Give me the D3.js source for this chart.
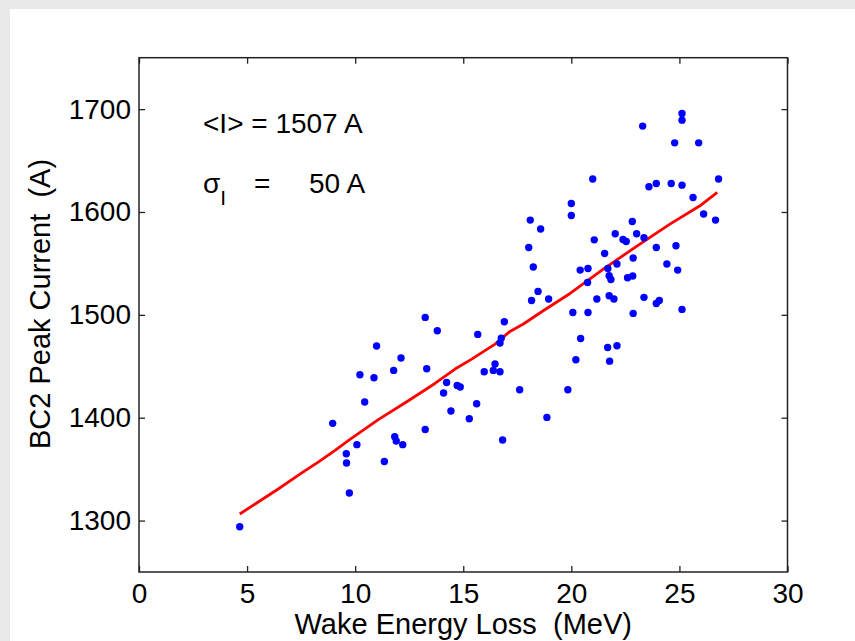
<!DOCTYPE html>
<html>
<head>
<meta charset="utf-8">
<script src="https://cdn.jsdelivr.net/npm/d3@7"></script>
<style>
  html, body { margin: 0; padding: 0; background: #e8e8e8; }
  svg { display: block; }
  text { font-family: "Liberation Sans", Arial, sans-serif; fill: #000; white-space: pre; }
</style>
</head>
<body>
<svg id="chart" width="855" height="641"></svg>
<script>
// ---- data ----
const energy = [4.66,13.24,13.8,15.67,10.99,12.12,11.78,13.31,10.22,10.87,14.23,14.72,14.86,14.09,10.44,15.62,14.43,15.28,8.96,13.24,11.83,11.9,12.2,10.08,9.59,9.6,11.35,9.73,
  16.9,16.76,16.7,20.43,21.68,22.11,20.21,21.77,16.47,16.39,16.7,15.97,17.61,19.84,18.87,16.82,
  25.12,25.12,23.3,24.78,25.89,20.99,26.81,23.59,23.93,24.62,25.12,25.63,20.0,20.0,26.12,26.67,18.1,18.58,22.82,18.03,22.03,23.02,22.39,22.54,21.06,23.36,23.93,24.84,21.54,22.86,18.24,22.11,24.42,24.92,20.41,20.77,21.69,21.75,21.83,20.75,22.6,22.84,18.46,18.16,18.95,21.18,21.75,21.97,23.36,23.93,24.07,25.12,20.07,20.77,22.86];
const current = [1294,1497.5,1484.5,1481,1469.7,1458,1446,1447.6,1441.8,1438.9,1434.3,1431.4,1429.8,1424,1415.3,1413.6,1406.5,1399,1394.5,1388.6,1381.5,1377.3,1373.8,1373.8,1365,1356,1357.5,1326.8,
  1493.3,1477.4,1472.6,1477,1468.3,1470,1456.4,1455,1452.2,1446,1444.7,1444.7,1427.2,1427.2,1400.3,1378.3,
  1695.7,1689.3,1683.5,1667.2,1667.2,1632,1632,1624.5,1627.7,1627.7,1626.1,1614.1,1608.3,1596.6,1598,1592.1,1592.1,1583.4,1590.8,1565.5,1578.8,1578.8,1573.3,1571.3,1572.9,1574.9,1565.5,1567.2,1559.7,1555.2,1546.5,1549.4,1549.4,1543.5,1543.5,1545.1,1545.1,1538,1534.4,1531.5,1536,1537.7,1522.8,1514,1515.4,1515.4,1518.6,1515.4,1517,1511.1,1514,1505.3,1502.3,1502.3,1501.4];
const fitEnergy  = [4.66,6.44,7.53,8.29,9.07,9.76,11.07,12.46,13.69,14.62,15.39,16.47,17.16,17.78,18.7,19.94,21.48,23.17,24.56,25.95,26.75];
const fitCurrent = [1306.4,1330.7,1346.3,1356.8,1368.2,1378.9,1398.1,1416.5,1433.3,1447.3,1457,1471.6,1483.9,1491.1,1504,1520.8,1544.5,1568.8,1588.2,1606,1619];
const xTicks = [0,5,10,15,20,25,30];
const yTicks = [1300,1400,1500,1600,1700];
const xLabel = "Wake Energy Loss  (MeV)";
const yLabel = "BC2 Peak Current  (A)";

// ---- drawing ----
const svg = d3.select("#chart");
svg.append("rect").attr("x",10).attr("y",9).attr("width",845).attr("height",632).attr("fill","#fff");

const L = 139, R = 787.5, T = 57.7, B = 572;
const x = d3.scaleLinear().domain([0,30]).range([L,R]);
const y = d3.scaleLinear().domain([1250,1750]).range([B,T]);
const FS = 28, LFS = 29;
const axisColor = "#222";

// axes (ticks inward)
const gx = svg.append("g").attr("transform",`translate(0,${B})`)
  .call(d3.axisBottom(x).tickValues(xTicks).tickSize(-6).tickSizeOuter(0).tickPadding(11).tickFormat(d3.format("d")));
const gxt = svg.append("g").attr("transform",`translate(0,${T})`)
  .call(d3.axisTop(x).tickValues(xTicks).tickSize(-6).tickSizeOuter(0).tickFormat(""));
const gy = svg.append("g").attr("transform",`translate(${L},0)`)
  .call(d3.axisLeft(y).tickValues(yTicks).tickSize(-6).tickSizeOuter(0).tickPadding(8).tickFormat(d3.format("d")));
const gyr = svg.append("g").attr("transform",`translate(${R},0)`)
  .call(d3.axisRight(y).tickValues(yTicks).tickSize(-6).tickSizeOuter(0).tickFormat(""));
[gx,gxt,gy,gyr].forEach(g => {
  g.select(".domain").remove();
  g.selectAll("line").attr("stroke",axisColor).attr("stroke-width",1.3);
  g.selectAll("text").attr("font-size",FS).attr("font-family","Liberation Sans, Arial, sans-serif").attr("fill","#000");
});
gx.selectAll("text").attr("dy","0.71em");

svg.append("rect").attr("x",L).attr("y",T).attr("width",R-L).attr("height",B-T)
  .attr("fill","none").attr("stroke",axisColor).attr("stroke-width",1.5);

// fit line
const line = d3.line().x((d,i)=>x(fitEnergy[i])).y((d,i)=>y(fitCurrent[i]));
svg.append("path").datum(fitEnergy).attr("d",line)
  .attr("fill","none").attr("stroke","#ff0000").attr("stroke-width",2.8).attr("stroke-linejoin","round");

// points
svg.append("g").selectAll("circle").data(energy).join("circle")
  .attr("cx",(d)=>x(d)).attr("cy",(d,i)=>y(current[i])).attr("r",3.7).attr("fill","#0000ff");

// labels
svg.append("text").attr("x",(L+R)/2).attr("y",634).attr("text-anchor","middle")
  .attr("font-size",LFS).text(xLabel);
svg.append("text").attr("transform",`translate(50,304) rotate(-90)`)
  .attr("text-anchor","middle").attr("font-size",LFS).text(yLabel);

// annotations
svg.append("text").attr("x",203).attr("y",133).attr("font-size",FS).text("<I> = 1507 A");
const s = svg.append("text").attr("x",203).attr("y",193).attr("font-size",FS);
s.append("tspan").text("σ");
s.append("tspan").attr("font-size",21).attr("dy",12).text("I");
svg.append("text").attr("x",254).attr("y",193).attr("font-size",FS).text("=");
svg.append("text").attr("x",309).attr("y",193).attr("font-size",FS).text("50 A");
</script>
</body>
</html>
